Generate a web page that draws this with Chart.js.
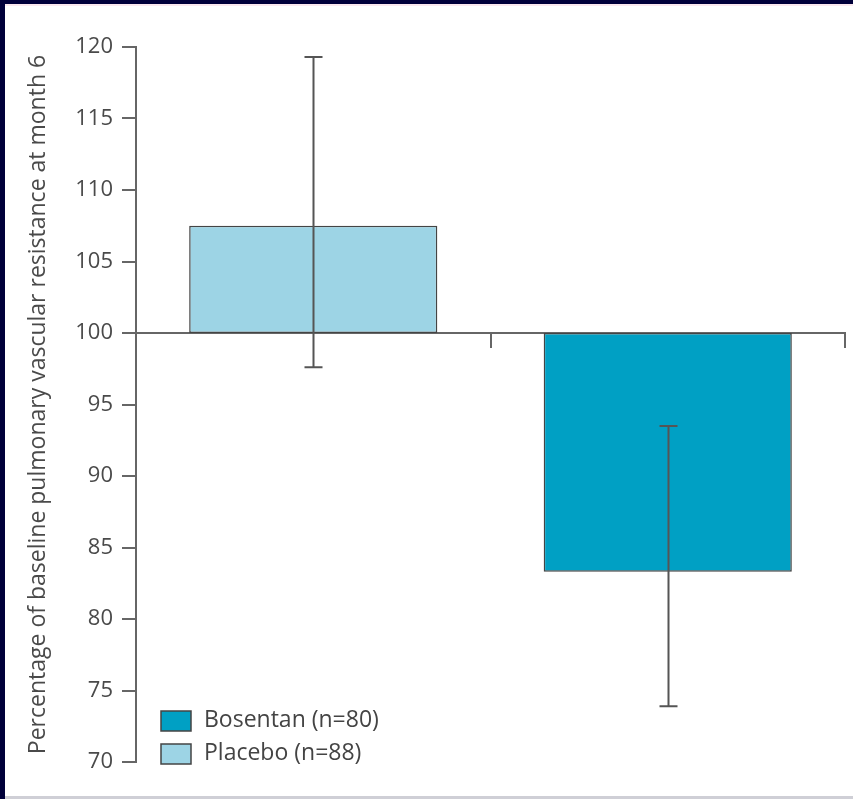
<!DOCTYPE html>
<html>
<head>
<meta charset="utf-8">
<script src="https://cdn.jsdelivr.net/npm/chart.js@4/dist/chart.umd.min.js"></script>
<style>
html,body{margin:0;padding:0;background:#000040;}
#wrap{position:absolute;left:0;top:0;width:853px;height:799px;}
</style>
</head>
<body>
<div id="wrap"><canvas id="c" width="853" height="799"></canvas></div>
<script>
const categories = ['Placebo (n=88)', 'Bosentan (n=80)'];
const meanValues = [107.5, 83.3];
const errorLow = [97.6, 73.9];
const errorHigh = [119.3, 93.5];
const baselineValue = 100;
const legendOrder = [1, 0];
const barColors = ['#9dd4e5', '#00a0c4'];
const yTickMin = 70, yTickMax = 120, yTickStep = 5;
const yTitle = 'Percentage of baseline pulmonary vascular resistance at month 6';

const FONT = '"Open Sans", sans-serif';

const framePlugin = {
  id: 'frame',
  beforeDraw(chart) {
    const ctx = chart.ctx;
    ctx.save();
    ctx.fillStyle = '#00003a';
    ctx.fillRect(0, 0, 853, 799);
    ctx.fillStyle = '#ffffff';
    ctx.fillRect(5, 4, 848, 793);
    ctx.fillStyle = '#fbe9ef';
    ctx.fillRect(5, 4, 848, 2);
    ctx.fillStyle = '#cfcfd6';
    ctx.fillRect(5, 796, 848, 3);
    ctx.restore();
  }
};

const errorBarPlugin = {
  id: 'errorBars',
  afterDatasetsDraw(chart) {
    const ctx = chart.ctx;
    const y = chart.scales.y;
    const meta = chart.getDatasetMeta(0);
    ctx.save();
    ctx.strokeStyle = '#555555';
    ctx.lineWidth = 2;
    meta.data.forEach((bar, i) => {
      const x = Math.round(bar.x) + 0.5;
      const yl = y.getPixelForValue(errorLow[i]);
      const yh = y.getPixelForValue(errorHigh[i]);
      ctx.beginPath();
      ctx.moveTo(x, yl); ctx.lineTo(x, yh);
      ctx.moveTo(x - 9, yl); ctx.lineTo(x + 9, yl);
      ctx.moveTo(x - 9, yh); ctx.lineTo(x + 9, yh);
      ctx.stroke();
    });
    ctx.restore();
  }
};

const legendPlugin = {
  id: 'customLegend',
  afterDraw(chart) {
    const ctx = chart.ctx;
    ctx.save();
    ctx.font = '23px ' + FONT;
    ctx.textBaseline = 'middle';
    legendOrder.forEach((idx, k) => {
      const top = 711 + k * 33;
      ctx.fillStyle = barColors[idx];
      ctx.fillRect(161, top, 30, 20);
      ctx.strokeStyle = '#444444';
      ctx.lineWidth = 1.5;
      ctx.strokeRect(161, top, 30, 20);
      ctx.fillStyle = '#444444';
      ctx.fillText(categories[idx], 204, top + 9);
    });
    ctx.restore();
  }
};

new Chart(document.getElementById('c'), {
  type: 'bar',
  data: {
    labels: categories,
    datasets: [{
      data: meanValues.map(v => [baselineValue, v]),
      backgroundColor: barColors,
      borderColor: '#444444',
      borderWidth: 1.5,
      borderSkipped: false,
      barPercentage: 0.70,
      categoryPercentage: 1.0
    }]
  },
  options: {
    responsive: false,
    animation: false,
    devicePixelRatio: 1,
    layout: { padding: { left: 14, top: 47, right: 8, bottom: 37 } },
    plugins: { legend: { display: false }, tooltip: { enabled: false } },
    scales: {
      x: {
        position: { y: baselineValue },
        offset: true,
        grid: { offset: true, drawOnChartArea: false, drawTicks: true, tickLength: 14, color: '#666666', lineWidth: 2 },
        border: { display: true, color: '#666666', width: 2 },
        ticks: { display: false }
      },
      y: {
        min: yTickMin,
        max: yTickMax,
        afterFit(scale) { scale.width = 122; },
        grid: { drawOnChartArea: false, drawTicks: true, tickLength: 14, color: '#666666', lineWidth: 2 },
        border: { display: true, color: '#666666', width: 2 },
        ticks: { stepSize: yTickStep, padding: 9, color: '#4a4a4a', font: { family: FONT, size: 22 } },
        title: { display: true, text: yTitle, color: '#4a4a4a', padding: { top: 11, bottom: 0 }, font: { family: FONT, size: 23 } }
      }
    }
  },
  plugins: [framePlugin, errorBarPlugin, legendPlugin]
});
</script>
</body>
</html>
